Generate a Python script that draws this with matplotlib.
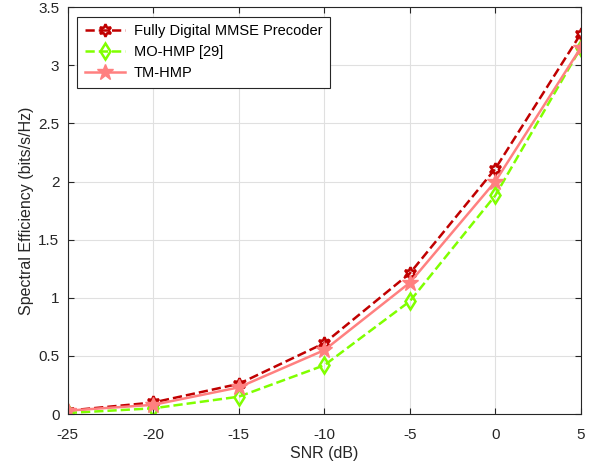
import matplotlib
matplotlib.use('Agg')
import matplotlib.pyplot as plt

plt.rcParams['font.family'] = ['Liberation Sans', 'DejaVu Sans']

snr = [-25, -20, -15, -10, -5, 0, 5]
fd_mmse = [0.03, 0.10, 0.26, 0.61, 1.21, 2.11, 3.27]
mo_hmp = [0.01, 0.05, 0.15, 0.42, 0.97, 1.88, 3.15]
tm_hmp = [0.03, 0.08, 0.23, 0.55, 1.13, 2.00, 3.15]

fig = plt.figure(figsize=(6.05, 4.69), dpi=100)
ax = fig.add_axes([0.112, 0.117, 0.848, 0.868])

ax.plot(snr, fd_mmse, '--', color='#C00000', lw=1.8, marker=(6, 1, 0), ms=9,
        mfc='none', mew=1.8, label='Fully Digital MMSE Precoder')
ax.plot(snr, mo_hmp, '--', color='#80FF00', lw=1.8, marker='d', ms=8,
        mfc='none', mew=1.8, label='MO-HMP [29]')
ax.plot(snr, tm_hmp, '-', color='#FF8080', lw=1.8, marker='*', ms=12,
        label='TM-HMP')

ax.set_xlim(-25, 5)
ax.set_ylim(0, 3.5)
ax.set_xticks(snr)
ax.set_xticklabels([str(s) for s in snr])
ax.set_yticks([0, 0.5, 1, 1.5, 2, 2.5, 3, 3.5])
ax.set_yticklabels(['0', '0.5', '1', '1.5', '2', '2.5', '3', '3.5'])
ax.grid(True, color='#e0e0e0', lw=0.8)
ax.set_axisbelow(True)
for s in ax.spines.values():
    s.set_color('#262626')
    s.set_linewidth(0.8)
ax.tick_params(direction='in', labelsize=11, colors='#262626', length=4,
               top=True, right=True)
ax.tick_params(axis='x', pad=10)
ax.tick_params(axis='y', pad=6)
ax.set_xlabel('SNR (dB)', fontsize=11.5, color='#262626', labelpad=3)
ax.set_ylabel('Spectral Efficiency (bits/s/Hz)', fontsize=11.5, color='#262626',
              labelpad=3)

leg = ax.legend(loc='upper left', fontsize=10.5, fancybox=False, framealpha=1,
                edgecolor='#262626', borderpad=0.5, labelspacing=0.5,
                handlelength=2.8, handletextpad=0.6, borderaxespad=0.65)
leg.get_frame().set_linewidth(0.8)

fig.savefig('out.png', dpi=100)
